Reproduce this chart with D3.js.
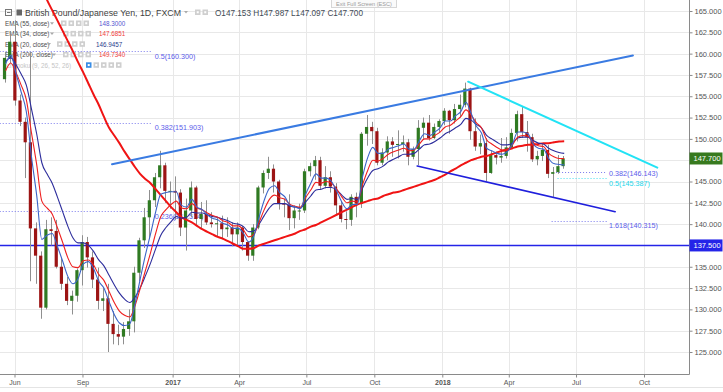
<!DOCTYPE html>
<html>
<head>
<meta charset="utf-8">
<script src="https://cdn.jsdelivr.net/npm/d3@7"></script>
<style>
  body { margin: 0; background: #fff; }
  svg { display: block; font-family: "Liberation Sans", Arial, sans-serif; }
</style>
</head>
<body>
<div id="chart"></div>
<script>
// GBP/JPY, weekly bars (week starting Monday)
const firstMonday = new Date(2016, 4, 16)

const opens = [157.0,159.5,161.4,154.5,152.0,149.6,139.5,136.3,130.2,139.4,
  139.2,135.0,133.0,131.0,131.6,134.6,137.9,136.1,133.5,131.0,
  131.3,128.3,127.1,126.8,127.7,128.6,134.3,138.1,140.8,142.8,
  145.5,146.9,143.9,143.9,143.7,139.6,141.6,144.3,140.6,141.2,
  140.2,140.0,140.1,139.4,139.6,138.8,139.6,137.9,136.3,139.6,
  144.3,146.0,146.5,145.0,142.4,142.3,140.7,141.6,141.6,146.2,
  146.8,147.5,144.5,145.5,144.4,142.2,140.6,140.5,143.2,142.4,
  150.6,151.4,150.9,147.2,148.4,149.7,149.3,149.4,149.6,147.9,
  148.8,151.3,151.9,150.1,151.4,152.1,153.3,152.2,153.5,154.0,
  155.9,150.9,149.1,149.5,146.0,148.1,147.8,148.0,149.0,150.7,
  152.9,150.8,150.2,147.6,148.0,148.7,145.9,146.1,146.8]
const highs = [160.2,162.6,163.9,155.2,152.5,160.2,140.2,136.8,140.5,140.8,
  140.5,136.0,133.8,132.2,134.8,138.7,138.5,136.8,134.9,132.5,
  133.0,129.8,128.2,128.5,130.0,135.0,138.4,141.9,144.0,146.0,
  148.6,147.2,145.0,145.6,144.1,143.0,145.0,144.5,142.6,142.8,
  141.4,140.8,141.0,140.8,140.2,140.2,139.8,138.0,140.0,144.5,
  146.3,147.9,147.0,145.2,143.0,143.5,142.2,142.4,146.5,147.2,
  148.0,147.9,146.8,146.2,144.8,142.7,141.5,143.5,143.7,150.8,
  152.8,152.0,151.3,148.9,150.3,150.2,151.0,150.4,150.0,149.1,
  152.2,152.5,152.8,151.8,152.3,153.6,153.4,154.1,155.2,156.6,
  156.0,152.4,150.5,150.1,148.6,148.5,150.1,150.2,151.2,153.3,
  153.8,152.1,150.6,148.6,149.5,149.3,146.7,148.1,147.99]
const lows = [156.6,158.9,153.9,151.5,145.4,133.3,133.0,128.9,130.0,137.5,
  134.8,132.3,130.5,129.4,130.9,132.8,134.9,132.5,130.0,129.8,
  125.0,125.9,125.8,125.9,126.9,127.3,133.3,137.2,138.4,142.0,
  144.2,142.5,141.8,140.5,138.6,136.9,140.8,139.8,139.4,139.9,
  139.6,138.5,138.2,138.5,137.4,137.4,136.9,135.7,135.7,139.4,
  143.6,145.3,143.7,141.7,140.8,139.3,139.5,140.5,141.3,145.6,
  145.2,144.0,144.2,143.7,141.1,140.2,139.4,139.8,140.8,141.9,
  149.2,149.4,146.9,146.9,147.5,147.9,147.7,148.5,146.9,147.6,
  146.9,150.0,149.8,150.0,150.8,151.6,150.6,151.8,152.5,153.7,
  149.9,148.6,148.2,145.0,145.9,147.0,147.2,147.7,148.9,149.7,
  150.1,148.5,147.3,146.9,147.4,145.4,143.2,145.9,146.5]
const closes = [159.5,161.4,154.5,152.0,149.6,139.5,136.3,130.2,139.4,139.2,
  135.0,133.0,131.0,131.6,134.6,137.9,136.1,133.5,131.0,131.3,
  128.3,127.1,126.8,127.7,128.6,134.3,138.1,140.8,142.8,145.5,
  146.9,143.9,143.9,143.7,139.6,141.6,144.3,140.6,141.2,140.2,
  140.0,140.1,139.4,139.6,138.8,139.6,137.9,136.3,139.6,144.3,
  146.0,146.5,145.0,142.4,142.3,140.7,141.6,141.6,146.2,146.8,
  147.5,144.5,145.5,144.4,142.2,140.6,140.5,143.2,142.4,150.6,
  151.4,150.9,147.2,148.4,149.7,149.3,149.4,149.6,147.9,148.8,
  151.3,151.9,150.1,151.4,152.1,153.3,152.2,153.5,154.0,155.9,
  150.9,149.1,149.5,146.0,148.1,147.8,148.0,149.0,150.7,152.9,
  150.8,150.2,147.6,148.0,148.7,145.9,146.1,146.8,147.7]

// moving averages, end-of-week values
const ema20 = [158.8,159.8,157.7,155.5,153.2,147.9,143.4,138.2,138.7,138.9,
  137.4,135.7,133.9,133.0,133.6,135.3,135.6,134.8,133.3,132.5,
  130.9,129.4,128.4,128.1,128.3,130.6,133.5,136.3,138.8,141.4,
  143.5,143.7,143.8,143.8,142.2,142.0,142.9,142.0,141.7,141.1,
  140.7,140.5,140.1,139.9,139.5,139.5,138.9,137.9,138.6,140.8,
  142.8,144.2,144.5,143.7,143.2,142.2,142.0,141.8,143.5,144.8,
  145.9,145.4,145.4,145.0,143.9,142.6,141.8,142.3,142.3,145.5,
  147.8,149.0,148.3,148.3,148.8,149.0,149.2,149.4,148.8,148.8,
  149.8,150.6,150.4,150.8,151.3,152.1,152.1,152.7,153.2,154.3,
  153.0,151.5,150.7,148.9,148.6,148.3,148.2,148.5,149.4,150.8,
  150.8,150.6,149.4,148.9,148.8,147.7,147.1,147.0,146.9457]
const ema34 = [158.0,158.9,157.8,156.3,154.6,150.7,147.0,142.7,141.9,141.2,
  139.6,137.9,136.1,135.0,134.9,135.7,135.8,135.2,134.1,133.4,
  132.1,130.8,129.8,129.3,129.1,130.4,132.4,134.5,136.6,138.9,
  140.9,141.7,142.3,142.7,141.9,141.8,142.4,141.9,141.7,141.3,
  141.0,140.8,140.4,140.2,139.8,139.8,139.3,138.5,138.8,140.2,
  141.7,142.9,143.4,143.1,142.9,142.3,142.1,142.0,143.1,144.0,
  144.9,144.8,145.0,144.8,144.1,143.2,142.5,142.7,142.6,144.6,
  146.3,147.5,147.4,147.7,148.2,148.5,148.7,148.9,148.6,148.7,
  149.4,150.0,150.0,150.4,150.8,151.4,151.6,152.1,152.6,153.4,
  152.8,151.9,151.3,149.9,149.4,149.0,148.7,148.8,149.3,150.2,
  150.4,150.3,149.6,149.2,149.1,148.3,147.9,147.7,147.6851]
const ema55 = [159.1,159.5,158.7,157.6,156.3,153.5,150.6,147.2,145.9,144.8,
  143.2,141.5,139.8,138.4,137.8,137.8,137.5,136.8,135.8,135.1,
  134.0,132.9,131.9,131.2,130.8,131.4,132.5,133.9,135.4,137.1,
  138.7,139.6,140.3,140.9,140.7,140.8,141.4,141.3,141.3,141.1,
  140.9,140.8,140.6,140.4,140.1,140.0,139.7,139.1,139.2,140.0,
  141.0,141.9,142.4,142.4,142.4,142.1,142.0,141.9,142.6,143.3,
  144.0,144.1,144.3,144.3,144.0,143.4,142.9,143.0,142.9,144.2,
  145.4,146.3,146.5,146.8,147.3,147.6,147.9,148.2,148.2,148.3,
  148.8,149.3,149.4,149.7,150.1,150.6,150.9,151.3,151.7,152.4,
  152.2,151.7,151.3,150.4,150.0,149.6,149.3,149.3,149.5,150.1,
  150.2,150.2,149.8,149.5,149.4,148.9,148.6,148.4,148.3]
const ema200 = [174.8,174.2,173.6,173.0,172.3,170.9,169.4,167.9,166.3,165.1,
  163.9,162.7,161.5,160.3,159.0,157.8,156.5,155.2,154.0,152.6,
  151.3,150.4,149.5,148.5,147.6,146.7,145.9,145.3,144.8,144.1,
  143.4,142.7,142.0,141.4,140.8,140.5,140.2,139.8,139.4,139.1,
  138.8,138.5,138.3,138.0,137.7,137.4,137.1,137.1,137.2,137.5,
  137.7,137.9,138.1,138.3,138.5,138.7,138.9,139.2,139.4,139.7,
  139.9,140.2,140.5,140.8,141.1,141.4,141.7,142.0,142.3,142.5,
  142.7,142.9,143.0,143.3,143.5,143.7,143.8,144.0,144.2,144.4,
  144.6,144.8,145.0,145.2,145.5,145.8,146.2,146.5,146.9,147.2,
  147.5,147.7,147.9,148.0,148.2,148.4,148.6,148.7,148.9,149.1,
  149.2,149.3,149.3,149.4,149.5,149.5,149.6,149.7,149.734]

// axis ticks
const yTicks = [125, 127.5, 130, 132.5, 135, 137.5, 140, 142.5, 145, 147.5, 150, 152.5, 155, 157.5, 160, 162.5, 165]
const xTickDates = ["2016-06-01", "2016-09-01", "2017-01-01", "2017-04-01", "2017-07-01", "2017-10-01", "2018-01-01", "2018-04-01", "2018-07-01", "2018-10-01"]
const xTickLabels = ["Jun", "Sep", "2017", "Apr", "Jul", "Oct", "2018", "Apr", "Jul", "Oct"]

// drawings: [date, price]
const upperTrend = [["2016-10-11", 147.02], ["2018-09-16", 159.78]]
const cyanTrend = [["2018-02-05", 156.71], ["2018-10-19", 146.62]]
const lowerTrend = [["2017-11-28", 146.82], ["2018-08-23", 141.46]]
const supportLevel = 137.5
const lastClose = 147.7
const fibLeft = [["0.5", 160.300], ["0.382", 151.903], ["0.236", 141.514]]
const fibRight = [["0.382", 146.143], ["0.5", 145.387], ["1.618", 140.315]]

// ---- layout
const W = 723, H = 392
const plotW = 689, plotH = 374
const parse = d3.timeParse("%Y-%m-%d")

const svg = d3.select("#chart").append("svg")
    .attr("width", W)
    .attr("height", H)

const x = d3.scaleTime()
    .domain([new Date(2016, 5, 1), new Date(2018, 9, 1)])
    .range([14.5, 644])
const y = d3.scaleLinear().domain([125, 165]).range([352, 11])
const crisp = v => Math.round(v) + 0.5

const weeks = d3.timeMonday.range(firstMonday, d3.timeDay.offset(firstMonday, 7 * closes.length))
const bars = weeks.map((d, i) => ({ d, o: opens[i], h: highs[i], l: lows[i], c: closes[i] }))

svg.append("defs").append("clipPath").attr("id", "plot")
  .append("rect").attr("width", plotW).attr("height", plotH)

// grid
const grid = svg.append("g").attr("stroke", "#e8e8e8").attr("stroke-width", 1)
grid.selectAll(".h").data(yTicks).join("line")
    .attr("x1", 0).attr("x2", plotW)
    .attr("y1", d => crisp(y(d))).attr("y2", d => crisp(y(d)))
grid.selectAll(".v").data(xTickDates).join("line")
    .attr("x1", d => crisp(x(parse(d)))).attr("x2", d => crisp(x(parse(d))))
    .attr("y1", 0).attr("y2", plotH)

// legend (sits under the series)
const legend = svg.append("g").attr("fill", "#4d4d4d")
legend.append("rect").attr("x", 5.5).attr("y", 9.5).attr("width", 6).attr("height", 6)
    .attr("fill", "none").attr("stroke", "#777")
legend.append("line").attr("x1", 7).attr("x2", 10.5).attr("y1", 12.5).attr("y2", 12.5).attr("stroke", "#777")
legend.append("rect").attr("x", 16.5).attr("y", 9.5).attr("width", 5.5).attr("height", 6).attr("fill", "#666")
legend.append("text").attr("x", 25).attr("y", 16).attr("font-size", 8.8)
    .attr("fill", "#3f3f3f").text("British Pound/Japanese Yen, 1D, FXCM")
legend.append("text").attr("x", 215).attr("y", 16).attr("font-size", 8.2)
    .attr("fill", "#3f4a55").text("O147.153  H147.987  L147.097  C147.700")

function arrow(cx, cy) {
  legend.append("path").attr("d", `M${cx - 2},${cy - 1}L${cx + 2},${cy - 1}L${cx},${cy + 1.5}Z`).attr("fill", "#aaa")
}
function icons(x0, top, n, first) {
  for (let i = 0; i < n; i++) {
    legend.append("rect").attr("x", x0 + i * 7.5).attr("y", top).attr("width", 5.5).attr("height", 5.5)
        .attr("fill", i === 0 && first ? first : "#cfcfcf")
    legend.append("rect").attr("x", x0 + i * 7.5 + 1.75).attr("y", top + 1.75).attr("width", 2).attr("height", 2)
        .attr("fill", "#fff")
  }
}
arrow(186, 12)
icons(195, 9.5, 2)

const fmt4 = d3.format(".4f")
const rows = [
  { label: "EMA (55, close)", value: fmt4(ema55[ema55.length - 1]), color: "#5656d0", base: 25.7, ax: 52, ix: 61, vx: 99 },
  { label: "EMA (34, close)", value: fmt4(ema34[ema34.length - 1]), color: "#f03c3c", base: 36.1, ax: 52, ix: 63, vx: 99 },
  { label: "EMA (20, close)", value: fmt4(ema20[ema20.length - 1]), color: "#2a3c8c", base: 46.5, ax: 49, ix: 57, vx: 96 },
  { label: "EMA (200, close)", value: fmt4(ema200[ema200.length - 1]), color: "#f03c3c", base: 57, ax: 54, ix: 63, vx: 99 }
]
rows.forEach(r => {
  legend.append("text").attr("x", 5).attr("y", r.base).attr("font-size", 6.3).text(r.label)
  arrow(r.ax, r.base - 2.5)
  icons(r.ix, r.base - 5.2, 4)
  legend.append("text").attr("x", r.vx).attr("y", r.base).attr("font-size", 6.3).attr("fill", r.color).text(r.value)
})
legend.append("text").attr("x", 5).attr("y", 67.5).attr("font-size", 6.3).attr("fill", "#c4c4c4")
    .text("Ichimoku (9, 26, 52, 26)")
icons(86, 62.3, 5, "#3a8ee6")

// "Exit Full Screen" tooltip
svg.append("rect").attr("x", 331.5).attr("y", -1).attr("width", 65).attr("height", 8.5)
    .attr("fill", "#fafafa").attr("stroke", "#d6d6d6")
svg.append("text").attr("x", 364).attr("y", 5.6).attr("text-anchor", "middle")
    .attr("font-size", 5.6).attr("fill", "#9a9a9a").text("Exit Full Screen (ESC)")

const plot = svg.append("g").attr("clip-path", "url(#plot)")

// fibonacci levels
const fibColor = "#5b5bea"
function fibLevel(level, value, from, to, color, dy) {
  const yy = crisp(y(value))
  plot.append("line").attr("x1", x(parse(from))).attr("x2", x(parse(to)))
      .attr("y1", yy).attr("y2", yy)
      .attr("stroke", color).attr("stroke-width", 1).attr("stroke-dasharray", "1,2").attr("opacity", 0.8)
  plot.append("text").attr("x", x(parse(to)) + 2).attr("y", y(value) + dy)
      .attr("font-size", 7.2).attr("fill", color).text(`${level}(${value.toFixed(3)})`)
}
fibLeft.forEach(([lv, v]) => fibLevel(lv, v, "2016-05-12", "2016-12-05", fibColor, 7.5))
fibLevel(fibRight[0][0], fibRight[0][1], "2018-06-04", "2018-08-12", fibColor, 4.3)
fibLevel(fibRight[1][0], fibRight[1][1], "2018-06-06", "2018-08-12", "#19d6ea", 7.8)
fibLevel(fibRight[2][0], fibRight[2][1], "2018-05-29", "2018-08-12", fibColor, 6.5)

// support line
plot.append("line").attr("x1", 0).attr("x2", plotW)
    .attr("y1", y(supportLevel)).attr("y2", y(supportLevel))
    .attr("stroke", "#2424e8").attr("stroke-width", 1.6)

// candles
const midWeek = d => d3.timeHour.offset(d, 60)
const candles = plot.append("g")
candles.selectAll("line").data(bars).join("line")
    .attr("x1", b => crisp(x(midWeek(b.d)))).attr("x2", b => crisp(x(midWeek(b.d))))
    .attr("y1", b => y(b.h)).attr("y2", b => y(b.l))
    .attr("stroke", "#8f8f8f").attr("stroke-width", 1)
candles.selectAll("rect").data(bars).join("rect")
    .attr("x", b => x(midWeek(b.d)) - 1.6)
    .attr("width", 3.2)
    .attr("y", b => y(Math.max(b.o, b.c)))
    .attr("height", b => Math.max(1, Math.abs(y(b.o) - y(b.c))))
    .attr("fill", b => b.c >= b.o ? "#2f7a22" : "#9c1414")

// moving averages
const friday = d => d3.timeDay.offset(d, 4)
function emaLine(values, color, width) {
  const line = d3.line()
      .x((v, i) => x(friday(weeks[i])))
      .y(v => y(v))
      .curve(d3.curveMonotoneX)
  plot.append("path").datum(values).attr("d", line)
      .attr("fill", "none").attr("stroke", color).attr("stroke-width", width)
}
emaLine(ema200, "#f01414", 2)
emaLine(ema55, "#2d2d9c", 1.1)
emaLine(ema34, "#ee2020", 1.1)
emaLine(ema20, "#3b64c8", 1.1)

// trend lines
function trend(pts, color, width) {
  plot.append("line")
      .attr("x1", x(parse(pts[0][0]))).attr("y1", y(pts[0][1]))
      .attr("x2", x(parse(pts[1][0]))).attr("y2", y(pts[1][1]))
      .attr("stroke", color).attr("stroke-width", width).attr("stroke-linecap", "round")
}
trend(upperTrend, "#3a7be2", 2)
trend(cyanTrend, "#22e3f5", 2)
trend(lowerTrend, "#1f1fdc", 1.6)

// axes
const axisColor = "#8a8a8a"
svg.append("line").attr("x1", plotW + 0.5).attr("x2", plotW + 0.5).attr("y1", 0).attr("y2", plotH + 0.5)
    .attr("stroke", axisColor)
svg.append("line").attr("x1", 0).attr("x2", plotW + 0.5).attr("y1", plotH + 0.5).attr("y2", plotH + 0.5)
    .attr("stroke", axisColor)
svg.append("line").attr("x1", 0).attr("x2", W).attr("y1", 387.5).attr("y2", 387.5).attr("stroke", "#e4e4e4")

// tick labels hidden behind the price tags are left out
const tagged = [lastClose, supportLevel]
const yAxis = svg.append("g")
    .attr("transform", `translate(${plotW + 0.5},0)`)
    .call(d3.axisRight(y).tickValues(yTicks)
      .tickFormat(d => tagged.some(t => Math.abs(t - d) < 0.5) ? "" : d3.format(".3f")(d))
      .tickSize(3).tickPadding(2).tickSizeOuter(0))
yAxis.select(".domain").remove()
yAxis.selectAll("line").attr("stroke", axisColor)
yAxis.selectAll("text").attr("font-size", 7.5).attr("fill", "#555").attr("font-family", null)

const xAxis = svg.append("g")
    .attr("transform", `translate(0,${plotH + 0.5})`)
    .call(d3.axisBottom(x).tickValues(xTickDates.map(parse))
      .tickFormat((d, i) => xTickLabels[i]).tickSize(3).tickPadding(3).tickSizeOuter(0))
xAxis.select(".domain").remove()
xAxis.selectAll("line").attr("stroke", axisColor)
xAxis.selectAll("text").attr("font-size", 7).attr("fill", "#555").attr("font-family", null)
    .attr("font-weight", (d, i) => /^\d{4}$/.test(xTickLabels[i]) ? "bold" : null)

// price tags on the axis
function tag(value, color) {
  const g = svg.append("g").attr("transform", `translate(${plotW + 0.5},${y(value)})`)
  g.append("rect").attr("x", 0).attr("y", -6).attr("width", 33).attr("height", 12).attr("fill", color)
  g.append("text").attr("x", 4).attr("y", 3).attr("font-size", 7.5).attr("fill", "#fff")
      .text(d3.format(".3f")(value))
}
tag(lastClose, "#377a1e")
tag(supportLevel, "#2424e8")
</script>
</body>
</html>
